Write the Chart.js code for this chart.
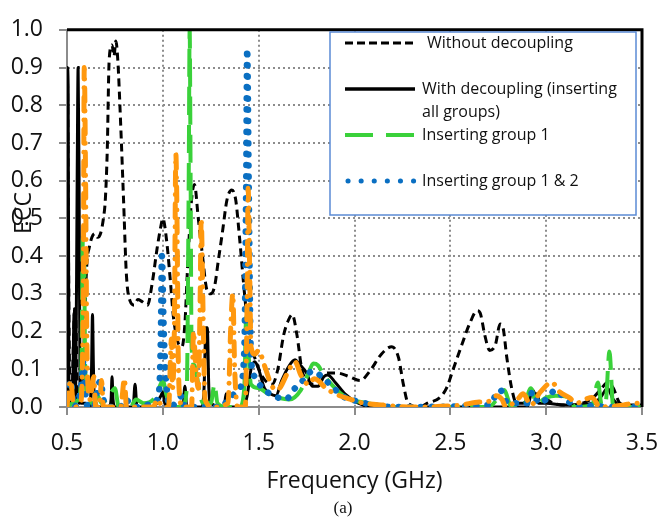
<!DOCTYPE html>
<html>
<head>
<meta charset="utf-8">
<script src="https://cdn.jsdelivr.net/npm/chart.js@4.4.1/dist/chart.umd.min.js"></script>
<style>
  html, body { margin: 0; padding: 0; background: #fff; }
  #wrap { width: 657px; height: 522px; }
</style>
</head>
<body>
<div id="wrap"><canvas id="ecc" width="657" height="522"></canvas></div>
<script>
// axis ticks
const xTickValues = [0.5, 1.0, 1.5, 2.0, 2.5, 3.0, 3.5];
const yTickValues = [0, 0.1, 0.2, 0.3, 0.4, 0.5, 0.6, 0.7, 0.8, 0.9, 1.0];

// Without decoupling
const freqNoDecoup = [
  0.50, 0.503, 0.508, 0.515, 0.525, 0.535, 0.542, 0.548, 0.555, 0.565,
  0.575, 0.585, 0.595, 0.605, 0.615, 0.63, 0.645, 0.66, 0.675, 0.69,
  0.70, 0.71, 0.72, 0.735, 0.745, 0.755, 0.765, 0.78, 0.795, 0.81,
  0.83, 0.85, 0.87, 0.89, 0.92, 0.945, 0.97, 0.99, 1.0, 1.02,
  1.04, 1.055, 1.08, 1.10, 1.115, 1.13, 1.15, 1.165, 1.185, 1.205,
  1.23, 1.25, 1.27, 1.29, 1.31, 1.335, 1.36, 1.38, 1.40, 1.43,
  1.455, 1.48, 1.52, 1.57, 1.60, 1.63, 1.655, 1.675, 1.70, 1.725,
  1.75, 1.785, 1.82, 1.86, 1.91, 1.975, 2.03, 2.08, 2.14, 2.195,
  2.23, 2.255, 2.28, 2.34, 2.38, 2.445, 2.48, 2.515, 2.56, 2.60,
  2.64, 2.655, 2.68, 2.705, 2.735, 2.76, 2.775, 2.795, 2.82, 2.845,
  2.88, 2.915, 2.94, 2.965, 3.0, 3.035, 3.11, 3.19, 3.245, 3.29,
  3.32, 3.35, 3.385, 3.43, 3.5
];
const eccNoDecoup = [
  0.90, 0.85, 0.40, 0.05, 0.02, 0.20, 0.27, 0.20, 0.03, 0.01,
  0.02, 0.10, 0.28, 0.39, 0.42, 0.45, 0.46, 0.45, 0.46, 0.50,
  0.55, 0.68, 0.92, 0.96, 0.93, 0.97, 0.92, 0.75, 0.55, 0.35,
  0.28, 0.27, 0.285, 0.28, 0.27, 0.33, 0.42, 0.48, 0.50, 0.44,
  0.33, 0.24, 0.17, 0.16, 0.22, 0.38, 0.55, 0.59, 0.50, 0.41,
  0.31, 0.30, 0.32, 0.39, 0.46, 0.55, 0.575, 0.55, 0.45, 0.28,
  0.17, 0.13, 0.08, 0.06, 0.10, 0.19, 0.23, 0.245, 0.19, 0.10,
  0.07, 0.06, 0.08, 0.09, 0.09, 0.08, 0.07, 0.095, 0.14, 0.16,
  0.13, 0.06, 0.01, 0.0, 0.01, 0.025, 0.05, 0.10, 0.165, 0.22,
  0.255, 0.25, 0.19, 0.15, 0.165, 0.22, 0.21, 0.13, 0.05, 0.01,
  0.01, 0.035, 0.045, 0.02, 0.02, 0.01, 0.005, 0.01, 0.025, 0.05,
  0.065, 0.05, 0.01, 0.005, 0.005
];

// With decoupling (all groups)
const freqAllGroups = [
  0.50, 0.502, 0.506, 0.51, 0.52, 0.53, 0.537, 0.545, 0.553, 0.558,
  0.563, 0.568, 0.575, 0.60, 0.62, 0.628, 0.633, 0.638, 0.645, 0.72,
  0.73, 0.735, 0.74, 0.75, 0.845, 0.855, 0.865, 0.95, 0.99, 1.0,
  1.01, 1.04, 1.105, 1.115, 1.125, 1.205, 1.215, 1.225, 1.232, 1.24,
  1.25, 1.32, 1.33, 1.34, 1.42, 1.44, 1.46, 1.48, 1.50, 1.53,
  1.56, 1.59, 1.62, 1.66, 1.69, 1.71, 1.75, 1.78, 1.81, 1.84,
  1.86, 1.90, 1.95, 2.02, 2.10, 2.90, 2.93, 2.96, 3.0, 3.10,
  3.25, 3.29, 3.32, 3.35, 3.40, 3.5
];
const eccAllGroups = [
  0.02, 0.90, 0.85, 0.05, 0.01, 0.05, 0.25, 0.02, 0.60, 0.90,
  0.60, 0.05, 0.01, 0.01, 0.0, 0.10, 0.245, 0.10, 0.0, 0.0,
  0.02, 0.08, 0.02, 0.0, 0.0, 0.06, 0.0, 0.0, 0.03, 0.04,
  0.01, 0.0, 0.0, 0.055, 0.0, 0.0, 0.05, 0.21, 0.21, 0.05,
  0.01, 0.0, 0.035, 0.0, 0.0, 0.03, 0.10, 0.12, 0.10, 0.05,
  0.035, 0.03, 0.07, 0.11, 0.125, 0.115, 0.09, 0.055, 0.055, 0.08,
  0.085, 0.065, 0.035, 0.01, 0.0, 0.0, 0.045, 0.01, 0.01, 0.005,
  0.01, 0.03, 0.05, 0.02, 0.0, 0.0
];

// Inserting group 1
const freqGroup1 = [
  0.50, 0.53, 0.56, 0.575, 0.583, 0.588, 0.595, 0.61, 0.64, 0.66,
  0.68, 0.72, 0.75, 0.77, 0.83, 0.86, 0.90, 0.95, 0.98, 1.00,
  1.02, 1.05, 1.10, 1.125, 1.135, 1.14, 1.145, 1.15, 1.165, 1.18,
  1.195, 1.21, 1.25, 1.27, 1.285, 1.33, 1.40, 1.425, 1.435, 1.445,
  1.46, 1.50, 1.55, 1.60, 1.66, 1.72, 1.76, 1.785, 1.81, 1.84,
  1.88, 1.93, 1.98, 2.07, 2.20, 2.70, 2.75, 2.78, 2.82, 2.88,
  2.92, 2.95, 3.0, 3.05, 3.12, 3.15, 3.24, 3.27, 3.29, 3.31,
  3.33, 3.35, 3.5
];
const eccGroup1 = [
  0.0, 0.01, 0.02, 0.10, 0.45, 0.45, 0.10, 0.02, 0.01, 0.03,
  0.01, 0.03, 0.05, 0.0, 0.0, 0.02, 0.01, 0.02, 0.05, 0.07,
  0.03, 0.0, 0.0, 0.05, 0.60, 1.0, 0.60, 0.16, 0.11, 0.075,
  0.03, 0.01, 0.01, 0.06, 0.01, 0.0, 0.0, 0.05, 0.24, 0.16,
  0.06, 0.05, 0.035, 0.025, 0.02, 0.045, 0.09, 0.115, 0.11, 0.085,
  0.06, 0.035, 0.02, 0.01, 0.0, 0.0, 0.025, 0.045, 0.0, 0.0,
  0.05, 0.01, 0.025, 0.03, 0.025, 0.0, 0.005, 0.065, 0.005, 0.01,
  0.147, 0.0, 0.0
];

// Inserting group 1 & 2
const freqGroup12 = [
  0.50, 0.52, 0.535, 0.56, 0.575, 0.585, 0.595, 0.61, 0.64, 0.66,
  0.675, 0.69, 0.72, 0.78, 0.80, 0.86, 0.95, 0.98, 0.99, 0.995,
  1.005, 1.02, 1.04, 1.08, 1.10, 1.115, 1.30, 1.36, 1.40, 1.425,
  1.435, 1.44, 1.448, 1.455, 1.46, 1.48, 1.52, 1.58, 1.64, 1.69,
  1.73, 1.78, 1.84, 1.89, 1.95, 2.02, 2.10, 2.20, 2.70, 2.76,
  2.80, 2.90, 2.93, 2.96, 3.0, 3.05, 3.10, 3.19, 3.26, 3.30,
  3.5
];
const eccGroup12 = [
  0.03, 0.07, 0.0, 0.02, 0.06, 0.12, 0.04, 0.0, 0.0, 0.05,
  0.07, 0.02, 0.0, 0.0, 0.02, 0.0, 0.01, 0.04, 0.20, 0.40,
  0.20, 0.05, 0.0, 0.02, 0.03, 0.0, 0.0, 0.03, 0.05, 0.15,
  0.60, 0.95, 0.60, 0.26, 0.13, 0.08, 0.05, 0.03, 0.02, 0.05,
  0.07, 0.095, 0.075, 0.05, 0.025, 0.015, 0.005, 0.0, 0.005, 0.045,
  0.01, 0.01, 0.04, 0.01, 0.02, 0.045, 0.02, 0.0, 0.005, 0.0,
  0.0
];

// orange trace (not in the legend)
const freqGroup123 = [
  0.50, 0.51, 0.52, 0.53, 0.54, 0.57, 0.585, 0.59, 0.597, 0.603,
  0.61, 0.62, 0.64, 0.65, 0.67, 0.68, 0.69, 0.78, 0.80, 0.81,
  0.95, 0.97, 1.00, 1.03, 1.045, 1.05, 1.06, 1.068, 1.075, 1.08,
  1.09, 1.10, 1.15, 1.16, 1.17, 1.185, 1.195, 1.20, 1.21, 1.22,
  1.26, 1.34, 1.355, 1.365, 1.375, 1.39, 1.43, 1.44, 1.445, 1.452,
  1.46, 1.48, 1.50, 1.53, 1.565, 1.59, 1.61, 1.65, 1.69, 1.72,
  1.76, 1.79, 1.81, 1.85, 1.90, 1.98, 2.05, 2.15, 2.30, 2.55,
  2.65, 2.70, 2.74, 2.77, 2.79, 2.85, 2.88, 2.92, 2.97, 3.03,
  3.07, 3.12, 3.16, 3.20, 3.24, 3.28, 3.40, 3.46, 3.5
];
const eccGroup123 = [
  0.0, 0.05, 0.07, 0.02, 0.0, 0.01, 0.30, 0.90, 0.60, 0.20,
  0.05, 0.02, 0.08, 0.0, 0.0, 0.07, 0.0, 0.0, 0.075, 0.0,
  0.0, 0.02, 0.0, 0.0, 0.18, 0.05, 0.20, 0.67, 0.45, 0.15,
  0.02, 0.0, 0.0, 0.20, 0.12, 0.05, 0.30, 0.50, 0.25, 0.02,
  0.0, 0.01, 0.22, 0.30, 0.10, 0.0, 0.0, 0.30, 0.58, 0.40,
  0.16, 0.14, 0.15, 0.11, 0.06, 0.045, 0.05, 0.09, 0.12, 0.085,
  0.06, 0.075, 0.07, 0.05, 0.035, 0.02, 0.01, 0.005, 0.0, 0.005,
  0.013, 0.015, 0.03, 0.02, 0.0, 0.02, 0.035, 0.005, 0.04, 0.065,
  0.04, 0.025, 0.01, 0.02, 0.025, 0.0, 0.005, 0.01, 0.01
];

const legendLabels = [
  ['Without decoupling'],
  ['With decoupling (inserting', 'all groups)'],
  ['Inserting group 1'],
  ['Inserting group 1 & 2']
];

function toPoints(xs, ys) {
  return xs.map((x, i) => ({ x: x, y: ys[i] }));
}

const FONT = "'Open Sans', 'Noto Sans', sans-serif";

// frame, y title, caption and the boxed legend
const extrasPlugin = {
  id: 'extras',
  afterDraw(chart) {
    const ctx = chart.ctx;
    const a = chart.chartArea;
    ctx.save();

    // black frame on top and right
    ctx.strokeStyle = '#000';
    ctx.lineWidth = 3;
    ctx.setLineDash([]);
    ctx.beginPath();
    ctx.moveTo(a.left, a.top);
    ctx.lineTo(a.right, a.top);
    ctx.lineTo(a.right, a.bottom);
    ctx.stroke();

    // y title, sitting over the tick labels like the original
    ctx.fillStyle = '#111';
    ctx.font = '23px ' + FONT;
    ctx.translate(24, 213);
    ctx.rotate(-Math.PI / 2);
    ctx.textAlign = 'center';
    ctx.textBaseline = 'middle';
    ctx.fillText('ECC', 0, 0);
    ctx.setTransform(1, 0, 0, 1, 0, 0);

    // caption
    ctx.font = "17px 'Liberation Serif', 'Times New Roman', serif";
    ctx.fillText('(a)', 343, 509);

    // legend box
    const box = { x: 330, y: 32, w: 306, h: 183 };
    ctx.fillStyle = '#fff';
    ctx.fillRect(box.x, box.y, box.w, box.h);
    ctx.strokeStyle = '#5b8bd5';
    ctx.lineWidth = 1.5;
    ctx.strokeRect(box.x, box.y, box.w, box.h);

    const rowY = [43, 89, 135, 181];
    ctx.font = '16px ' + FONT;
    ctx.textAlign = 'left';
    ctx.textBaseline = 'middle';
    legendLabels.forEach((lines, i) => {
      const ds = chart.data.datasets[i];
      const y = rowY[i];
      ctx.save();
      ctx.strokeStyle = ds.borderColor;
      ctx.lineWidth = ds.legendWidth;
      ctx.lineCap = ds.borderCapStyle || 'butt';
      ctx.setLineDash(ds.legendDash);
      ctx.beginPath();
      ctx.moveTo(i === 3 ? 348 : 345, y);
      ctx.lineTo(415, y);
      ctx.stroke();
      ctx.restore();
      ctx.fillStyle = '#111';
      lines.forEach((t, j) => {
        ctx.fillText(t, i === 0 ? 427 : 422, y + j * 23);
      });
    });
    ctx.restore();
  }
};

const ctx = document.getElementById('ecc').getContext('2d');
new Chart(ctx, {
  type: 'line',
  data: {
    datasets: [
      {
        label: 'Without decoupling',
        data: toPoints(freqNoDecoup, eccNoDecoup),
        borderColor: '#000',
        borderWidth: 3,
        borderDash: [8, 5],
        legendDash: [8, 4],
        legendWidth: 3,
        order: 5
      },
      {
        label: 'With decoupling (inserting all groups)',
        data: toPoints(freqAllGroups, eccAllGroups),
        borderColor: '#000',
        borderWidth: 3,
        legendDash: [],
        legendWidth: 3.5,
        order: 4
      },
      {
        label: 'Inserting group 1',
        data: toPoints(freqGroup1, eccGroup1),
        borderColor: '#3ad13a',
        borderWidth: 4,
        borderDash: [28, 10],
        legendDash: [28, 13],
        legendWidth: 4,
        order: 3
      },
      {
        label: 'Inserting group 1 & 2',
        data: toPoints(freqGroup12, eccGroup12),
        borderColor: '#0a6fc2',
        borderWidth: 6.5,
        borderDash: [0.1, 11],
        borderCapStyle: 'round',
        legendDash: [0.1, 13],
        legendWidth: 5,
        order: 2
      },
      {
        label: 'Inserting groups 1, 2 & 3',
        data: toPoints(freqGroup123, eccGroup123),
        borderColor: '#ff980e',
        borderWidth: 5,
        borderDash: [14, 9, 0.1, 9],
        borderCapStyle: 'round',
        order: 1
      }
    ]
  },
  options: {
    responsive: false,
    animation: false,
    elements: {
      point: { radius: 0 },
      line: { cubicInterpolationMode: 'monotone', fill: false }
    },
    layout: { padding: { top: 20, right: 15, bottom: 27, left: 0 } },
    plugins: {
      legend: { display: false },
      tooltip: { enabled: false }
    },
    scales: {
      x: {
        type: 'linear',
        min: 0.5,
        max: 3.5,
        afterBuildTicks: (scale) => { scale.ticks = xTickValues.map(v => ({ value: v })); },
        afterFit: (scale) => {
          scale.height = 88;
          scale.paddingLeft = 0;
          scale.paddingRight = 0;
        },
        ticks: {
          callback: (v) => Number(v).toFixed(1),
          color: '#111',
          font: { family: FONT, size: 23 },
          padding: 15,
          maxRotation: 0
        },
        grid: { color: '#8c8c8c', lineWidth: 2, tickLength: 8 },
        border: { display: true, color: '#8c8c8c', width: 2, dash: [2, 3] },
        title: {
          display: true,
          text: 'Frequency (GHz)',
          color: '#111',
          font: { family: FONT, size: 23 },
          padding: 0
        }
      },
      y: {
        type: 'linear',
        min: 0,
        max: 1,
        afterBuildTicks: (scale) => { scale.ticks = yTickValues.map(v => ({ value: v })); },
        afterFit: (scale) => { scale.width = 67; },
        ticks: {
          callback: (v) => Number(v).toFixed(1),
          color: '#111',
          font: { family: FONT, size: 23 },
          padding: 16
        },
        grid: { color: '#8c8c8c', lineWidth: 2, tickLength: 8 },
        border: { display: true, color: '#8c8c8c', width: 2, dash: [2, 3] }
      }
    }
  },
  plugins: [extrasPlugin]
});
</script>
</body>
</html>
